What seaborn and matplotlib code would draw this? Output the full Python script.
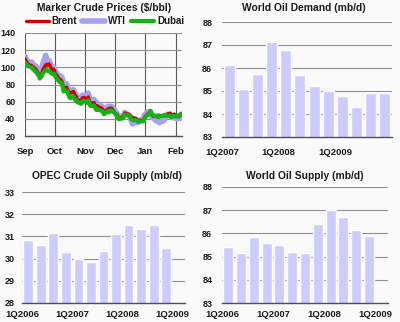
import matplotlib
matplotlib.use("Agg")
import matplotlib.pyplot as plt
import matplotlib.dates as mdates
from matplotlib.lines import Line2D
import seaborn as sns
import pandas as pd

# ---------------------------------------------------------------- data
# Daily marker crude prices, one row per trading week (Mon..Fri)
price_start = "2008-09-01"
price_end = "2009-02-06"

brent = [
    110, 108, 106, 104, 103,
    102, 100.5, 100, 98.5, 98,
    92, 88, 91, 93, 97,
    103, 103.5, 102.5, 104, 103,
    95, 98, 96, 91, 91.5,
    85, 86, 84, 82, 74,
    77, 75, 72, 68.5, 70,
    72, 70, 65.5, 66, 62,
    61, 60.5, 64.5, 63.5, 65,
    61.5, 65.5, 62, 57.5, 58,
    59, 56, 53, 55.5, 54,
    53, 52, 50.5, 47.5, 48.5,
    51.5, 49.5, 52.5, 52.5, 52,
    47, 45.5, 45.5, 42.5, 40.5,
    42, 41, 43, 47, 46,
    45.5, 44, 43.5, 42, 41.5,
    40.5, 40, 37.5, 38, 38.5,
    38, 38, 41, 43, 44.5,
    47.5, 49.5, 45.5, 44, 42.5,
    43.5, 42, 44.5, 43, 44,
    43.5, 44, 44, 43.5, 45.5,
    46.5, 44.5, 45, 44, 45.5,
    44, 43, 42.5, 44.5, 45,
]
wti = [
    113, 110, 108, 106.5, 106,
    106, 103.5, 102.5, 101, 101.5,
    96, 92, 97, 98, 104,
    114, 108, 106, 108, 106.5,
    97, 100.5, 98.5, 94, 93.5,
    88, 90, 89, 86.5, 78,
    81, 78.5, 74.5, 70, 72,
    74, 71, 67, 68, 64.5,
    63.5, 63, 67.5, 66, 67.5,
    64, 70, 65.5, 61, 61,
    62.5, 59.5, 56.5, 58.5, 57,
    55, 54.5, 53.5, 49.5, 50,
    54.5, 51, 54.5, 54.5, 54,
    49.5, 47, 47, 43.5, 41,
    43.5, 42.5, 43.5, 47.5, 46.5,
    44.5, 43.5, 40, 36.5, 34,
    39.5, 38.5, 35.5, 36, 37.5,
    40, 39, 44.5, 45, 46.5,
    48.5, 48.5, 42.5, 41.5, 41,
    37.5, 37.5, 37.5, 35.5, 36.5,
    37.5, 38.5, 43.5, 43.5, 45,
    45.5, 41.5, 42, 41.5, 41.5,
    40, 41, 40.5, 41, 40.5,
]
dubai = [
    106, 104, 103, 101.5, 101,
    100, 98, 97, 95.5, 95,
    90, 87, 88.5, 90, 93,
    97, 97.5, 96, 95.5, 95,
    92, 92.5, 92, 88.5, 87,
    83, 82.5, 81, 78.5, 72,
    73, 71.5, 68, 65, 64,
    66, 64.5, 61.5, 62, 59.5,
    58, 57.5, 60.5, 60.5, 61,
    58.5, 61.5, 59, 55.5, 55,
    55.5, 53, 50.5, 51.5, 50.5,
    49.5, 49, 48.5, 45.5, 46,
    49, 47.5, 49.5, 50, 49.5,
    46.5, 44.5, 44, 41.5, 39.5,
    40.5, 40.5, 42.5, 45, 44.5,
    44, 43, 41, 39, 38.5,
    38.5, 38, 36.5, 36.5, 37,
    37, 37.5, 39.5, 42, 43.5,
    46, 49, 47, 45, 43.5,
    43.5, 42.5, 43.5, 42, 43,
    43.5, 44.5, 44.5, 44, 43.5,
    43.5, 42, 43, 43.5, 43,
    42.5, 43.5, 44, 45, 46,
]

demand_quarters = ["1Q2007", "2Q2007", "3Q2007", "4Q2007",
                   "1Q2008", "2Q2008", "3Q2008", "4Q2008",
                   "1Q2009", "2Q2009", "3Q2009", "4Q2009"]
world_demand = [86.15, 85.1, 85.75, 87.15, 86.8, 85.7,
                85.2, 85.0, 84.8, 84.3, 84.9, 84.9]

supply_quarters = ["1Q2006", "2Q2006", "3Q2006", "4Q2006",
                   "1Q2007", "2Q2007", "3Q2007", "4Q2007",
                   "1Q2008", "2Q2008", "3Q2008", "4Q2008"]
supply_axis = supply_quarters + ["1Q2009"]
opec_supply = [30.85, 30.6, 31.15, 30.3, 30.0, 29.85,
               30.35, 31.1, 31.5, 31.35, 31.5, 30.5]
world_supply = [85.4, 85.15, 85.85, 85.6, 85.5, 85.2,
                85.15, 86.4, 87.0, 86.7, 86.15, 85.9]

# ---------------------------------------------------------------- style
sns.set_theme(style="white")
plt.rcParams["font.family"] = ["Liberation Sans", "DejaVu Sans"]
plt.rcParams["font.weight"] = "bold"

BG = "#fafafa"
BAR = "#ccccff"
GRID = "#8f8f8f"
AXIS = "#505050"
TEXT = "#1a1a1a"
COLORS = {"Brent": "#d40000", "WTI": "#a3a3f2", "Dubai": "#12b312"}
WIDTHS = {"Brent": 2.4, "WTI": 4.0, "Dubai": 3.0}

fig = plt.figure(figsize=(4.0, 3.22), dpi=100, facecolor=BG)
W, H = 400.0, 322.0


def place(left, top, right, bottom):
    return fig.add_axes([left / W, 1 - bottom / H, (right - left) / W, (bottom - top) / H])


def frame(ax):
    ax.set_facecolor(BG)
    for side in ("top", "right", "left"):
        ax.spines[side].set_visible(False)
    ax.spines["bottom"].set_color(AXIS)
    ax.spines["bottom"].set_linewidth(1.0)
    ax.set_axisbelow(True)
    ax.tick_params(axis="y", length=0, labelsize=6.5, labelcolor=TEXT)
    ax.tick_params(axis="x", length=3, width=0.8, color=AXIS, direction="out",
                   labelsize=6.8, labelcolor=TEXT)
    ax.set_xlabel("")
    ax.set_ylabel("")


def title(x, y, s):
    fig.text(x / W, 1 - y / H, s, ha="center", va="center", fontsize=7.4,
             fontweight="bold", color=TEXT)


# ---------------------------------------------------------------- prices
dates = pd.bdate_range(price_start, price_end)
prices = pd.DataFrame({"date": dates, "Brent": brent, "WTI": wti, "Dubai": dubai})
long = prices.melt(id_vars="date", var_name="crude", value_name="price")

ax1 = place(25, 33, 182, 136)
frame(ax1)
for name, z in (("WTI", 2), ("Brent", 3), ("Dubai", 4)):
    sns.lineplot(data=long[long["crude"] == name], x="date", y="price",
                 color=COLORS[name], linewidth=WIDTHS[name], ax=ax1,
                 zorder=z, legend=False)
ax1.set_xlim(pd.Timestamp("2008-09-01"), pd.Timestamp("2009-02-07"))
ax1.set_ylim(20, 140)
ax1.set_yticks(range(20, 141, 20))
ax1.xaxis.set_major_locator(mdates.MonthLocator())
ax1.xaxis.set_major_formatter(mdates.DateFormatter("%b"))
ax1.grid(True, axis="y", color=GRID, linewidth=0.8)
ax1.grid(True, axis="x", color="#5a5a5a", linewidth=0.8)
ax1.tick_params(axis="y", pad=7)
ax1.tick_params(axis="x", pad=5)
ax1.set_xlabel("")
ax1.set_ylabel("")
title(104, 8, "Marker Crude Prices ($/bbl)")
handles = [Line2D([], [], color=COLORS[n], linewidth=WIDTHS[n]) for n in ("Brent", "WTI", "Dubai")]
fig.legend(handles, ["Brent", "WTI", "Dubai"], loc="center", ncol=3,
           bbox_to_anchor=(105 / W, 1 - 21 / H), frameon=False, fontsize=7,
           handlelength=2.4, handletextpad=0.3, columnspacing=0.5,
           labelcolor=TEXT)


# ---------------------------------------------------------------- bars
def bar_panel(ax, quarters, values, order, ylim, tick_pos, tick_labels, ypad, xpad):
    df = pd.DataFrame({"quarter": quarters, "value": values})
    sns.barplot(data=df, x="quarter", y="value", order=order, color=BAR,
                saturation=1, width=0.78, ax=ax)
    frame(ax)
    ax.set_xlim(-0.5, len(order) - 0.5)
    ax.set_ylim(*ylim)
    ax.set_yticks(range(ylim[0], ylim[1] + 1))
    ax.set_xticks(tick_pos)
    ax.set_xticklabels(tick_labels)
    ax.grid(True, axis="y", color=GRID, linewidth=0.8)
    ax.grid(False, axis="x")
    ax.tick_params(axis="y", pad=ypad)
    ax.tick_params(axis="x", pad=xpad)


ax2 = place(222, 22, 392, 137)
bar_panel(ax2, demand_quarters, world_demand, demand_quarters, (83, 88),
          [-0.5, 3.5, 7.5, 11.5], ["1Q2007", "1Q2008", "1Q2009", ""], 7, 5)
title(304, 8, "World Oil Demand (mb/d)")

ax3 = place(22, 192, 185, 303)
bar_panel(ax3, supply_quarters, opec_supply, supply_axis, (28, 33),
          [-0.5, 3.5, 7.5, 11.5], ["1Q2006", "1Q2007", "1Q2008", "1Q2009"], 5, 2)
title(107, 176, "OPEC Crude Oil Supply (mb/d)")

ax4 = place(222, 187, 388, 303)
bar_panel(ax4, supply_quarters, world_supply, supply_axis, (83, 88),
          [-0.5, 3.5, 7.5, 11.5], ["1Q2006", "1Q2007", "1Q2008", "1Q2009"], 7, 2)
title(305, 176, "World Oil Supply (mb/d)")

fig.savefig("out.png", dpi=100, facecolor=BG)
